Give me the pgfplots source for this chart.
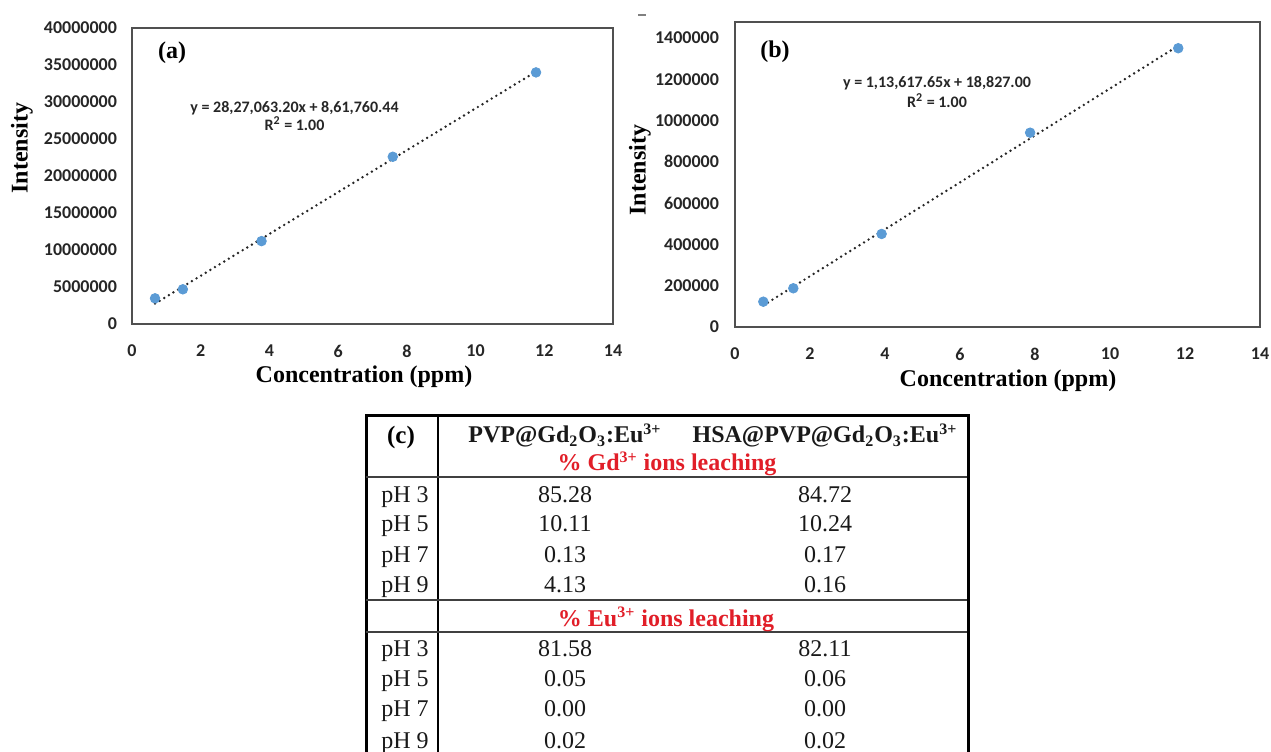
\documentclass[border=0pt]{standalone}
\usepackage{pgfplots}
\pgfplotsset{compat=1.18}
\usepackage{fontspec}
\setmainfont{Liberation Serif}
\newfontfamily\calibri{Carlito}
\definecolor{ptblue}{RGB}{91,155,213}
\definecolor{lred}{RGB}{225,30,40}
\definecolor{axgray}{RGB}{80,80,80}

\pgfplotsset{
  excelplot/.style={
    anchor=south west, scale only axis,
    axis line style={draw=axgray, line width=0.8pt},
    major tick length=0pt,
    xmin=0, xmax=14,
    xtick={0,2,4,6,8,10,12,14},
    xticklabels={0,2,4,6,8,10,12,14},
    scaled y ticks=false, scaled x ticks=false,
    tick label style={font=\calibri\bfseries\fontsize{9}{10}\selectfont, text=black!85},
    xticklabel style={yshift=-7pt},
    clip=false,
  },
  ptstyle/.style={only marks, mark=*, mark size=2.4pt, mark options={fill=ptblue, draw=ptblue}},
  trstyle/.style={black!85, line width=1.35pt, line cap=round, dash pattern=on 0pt off 2.7pt},
}

\begin{document}
\begin{tikzpicture}[x=0.5pt,y=0.5pt]
\useasboundingbox (0,0) rectangle (1271,751);

% ---------------- (a)
\begin{axis}[excelplot, at={(66pt,213.5pt)}, width=240.5pt, height=148pt,
  ymin=0, ymax=40000000,
  ytick={0,5000000,10000000,15000000,20000000,25000000,30000000,35000000,40000000},
  yticklabels={0,5000000,10000000,15000000,20000000,25000000,30000000,35000000,40000000},
  yticklabel style={xshift=-4pt}]
\addplot[ptstyle] coordinates {(0.67,3470000) (1.48,4690000) (3.77,11200000) (7.59,22600000) (11.76,34000000)};
\addplot[trstyle] coordinates {(0.67,2756000) (11.76,34108000)};
\end{axis}

% ---------------- (b)
\begin{axis}[excelplot, at={(367.5pt,212pt)}, width=262.5pt, height=152.5pt,
  ymin=0, ymax=1477000,
  ytick={0,200000,400000,600000,800000,1000000,1200000,1400000},
  yticklabels={0,200000,400000,600000,800000,1000000,1200000,1400000},
  yticklabel style={xshift=-4.5pt}]
\addplot[ptstyle] coordinates {(0.755,122600) (1.555,187500) (3.91,450600) (7.87,941000) (11.82,1350000)};
\addplot[trstyle] coordinates {(0.755,104600) (11.82,1361800)};
\end{axis}

% panel texts
\node[font=\bfseries\fontsize{12}{14}\selectfont] at (172,698) {(a)};
\node[font=\bfseries\fontsize{12}{14}\selectfont] at (775,699) {(b)};
\node[font=\calibri\bfseries\fontsize{8}{9}\selectfont, align=center, text=black!85] at (294.5,635) {y = 28,27,063.20x + 8,61,760.44\\R\textsuperscript{2} = 1.00};
\node[font=\calibri\bfseries\fontsize{8}{10}\selectfont, align=center, text=black!85] at (937,659) {y = 1,13,617.65x + 18,827.00\\R\textsuperscript{2} = 1.00};
\node[font=\bfseries\fontsize{12}{14}\selectfont] at (364,374) {Concentration (ppm)};
\node[font=\bfseries\fontsize{12}{14}\selectfont] at (1008,370) {Concentration (ppm)};
\node[font=\bfseries\fontsize{12}{14}\selectfont, rotate=90] at (22,603) {Intensity};
\node[font=\bfseries\fontsize{12}{14}\selectfont, rotate=90] at (640,581) {Intensity};
\draw[gray, line width=0.6pt] (638,736) -- (646,736);

% ---------------- (c) table
\draw[black, line width=1.5pt] (366,-20) -- (366,335) -- (968,335) -- (968,-20);
\draw[black, line width=1.4pt] (438,335) -- (438,-20);
\foreach \yy in {274,151,119} \draw[black!75, line width=0.8pt] (366,\yy) -- (967,\yy);
\node[font=\bfseries\fontsize{12.5}{14}\selectfont] at (401,314) {(c)};
\begin{scope}[every node/.style={font=\fontsize{12}{14}\selectfont, anchor=base, text=black!90}]
\node[font=\bfseries\fontsize{12}{14}\selectfont] at (565,308) {PVP@Gd\textsubscript{2}O\textsubscript{3}:Eu\textsuperscript{3+}};
\node[font=\bfseries\fontsize{12}{14}\selectfont] at (825,308) {HSA@PVP@Gd\textsubscript{2}O\textsubscript{3}:Eu\textsuperscript{3+}};
\node[font=\bfseries\fontsize{12}{14}\selectfont, text=lred] at (667,280) {\% Gd\textsuperscript{3+} ions leaching};
\node[font=\bfseries\fontsize{12}{14}\selectfont, text=lred] at (666,125) {\% Eu\textsuperscript{3+} ions leaching};
\node at (405,249) {pH 3}; \node at (565,249) {85.28}; \node at (825,249) {84.72};
\node at (405,220) {pH 5}; \node at (565,220) {10.11}; \node at (825,220) {10.24};
\node at (405,188) {pH 7}; \node at (565,188) {0.13};  \node at (825,188) {0.17};
\node at (405,158) {pH 9}; \node at (565,158) {4.13};  \node at (825,158) {0.16};
\node at (405,95)  {pH 3}; \node at (565,95)  {81.58}; \node at (825,95)  {82.11};
\node at (405,65)  {pH 5}; \node at (565,65)  {0.05};  \node at (825,65)  {0.06};
\node at (405,34)  {pH 7}; \node at (565,34)  {0.00};  \node at (825,34)  {0.00};
\node at (405,3)   {pH 9}; \node at (565,3)   {0.02};  \node at (825,3)   {0.02};
\end{scope}
\end{tikzpicture}
\end{document}
